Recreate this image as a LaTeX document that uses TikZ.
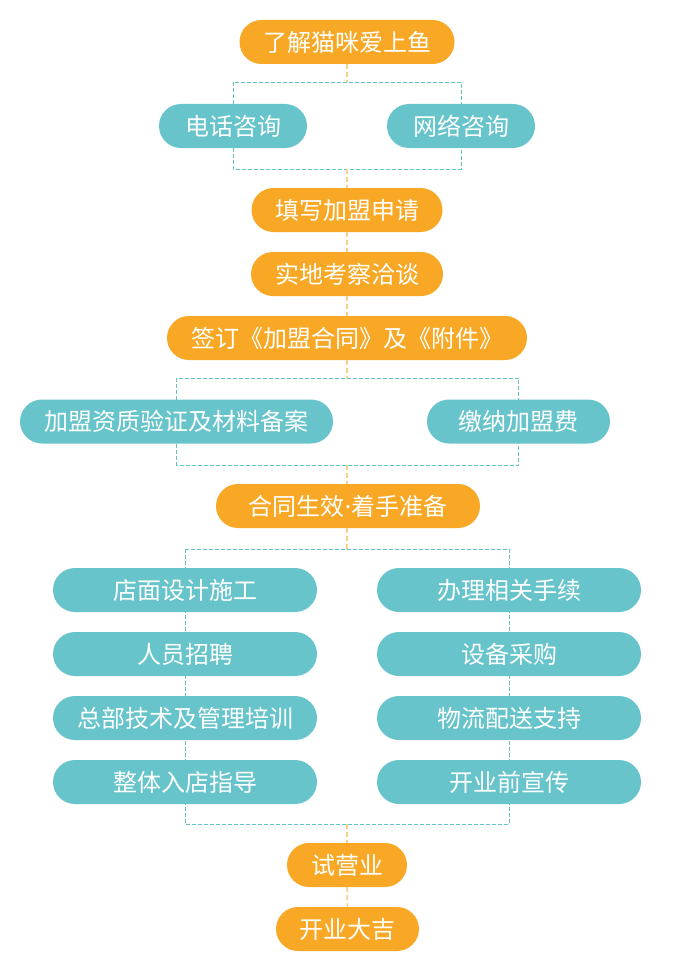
\documentclass[tikz,border=0pt]{standalone}
\usepackage{fontspec}
\setmainfont{Noto Sans CJK SC}
\newfontfamily\latn{Noto Sans}
\usepackage{xcolor}
\usetikzlibrary{positioning, calc, backgrounds}

\definecolor{orng}{HTML}{F8A824}
\definecolor{tl}{HTML}{67C4CB}
\definecolor{lnorng}{HTML}{F9CD8A}
\definecolor{lnteal}{HTML}{5FC6C0}

\begin{document}
\begin{tikzpicture}[x=1pt,y=-1pt,
    pill/.style={rectangle, rounded corners=22pt, minimum height=44pt, inner sep=0pt,
        text=white, font=\fontsize{24}{28}\selectfont},
    opill/.style={pill, fill=orng},
    tpill/.style={pill, fill=tl},
    link/.style={lnorng, line width=1.6pt, dash pattern=on 5pt off 3pt},
    group/.style={lnteal, line width=0.8pt, dash pattern=on 4pt off 2pt}]
        \useasboundingbox (0,0) rectangle (694,971);
        % steps
        \node[opill, minimum width=215pt] (know) at (347,42) {了解猫咪爱上鱼};
        \node[tpill, minimum width=148pt] (phone) at (233,126) {电话咨询};
        \node[tpill, minimum width=148pt] (web) at (461,126) {网络咨询};
        \node[opill, minimum width=191pt] (apply) at (347,210) {填写加盟申请};
        \node[opill, minimum width=192pt] (visit) at (347,274) {实地考察洽谈};
        \node[opill, minimum width=360pt] (sign) at (347,338) {签订《加盟合同》及《附件》};
        \node[tpill, minimum width=313pt] (check) at (176.5,421.5) {加盟资质验证及材料备案};
        \node[tpill, minimum width=183pt] (fee) at (518.5,421.5) {缴纳加盟费};
        \node[opill, minimum width=264pt] (ready) at (348,506) {合同生效{\latn ·}着手准备\hspace{16pt}};
        \node[tpill, minimum width=264pt] (shop) at (185,590) {店面设计施工};
        \node[tpill, minimum width=264pt] (staff) at (185,654) {人员招聘};
        \node[tpill, minimum width=264pt] (train) at (185,718) {总部技术及管理培训};
        \node[tpill, minimum width=264pt] (guide) at (185,782) {整体入店指导};
        \node[tpill, minimum width=264pt] (permit) at (509,590) {办理相关手续};
        \node[tpill, minimum width=264pt] (equip) at (509,654) {设备采购};
        \node[tpill, minimum width=264pt] (supply) at (509,718) {物流配送支持};
        \node[tpill, minimum width=264pt] (promo) at (509,782) {开业前宣传};
        \node[opill, minimum width=120pt] (trial) at (347,865) {试营业};
        \node[opill, minimum width=143pt] (open) at (347.5,929) {开业大吉};
        % group frames
        \coordinate (g1t) at (347,82);
        \coordinate (g1b) at (347,169);
        \coordinate (g2t) at (347,378);
        \coordinate (g2b) at (347,465);
        \coordinate (g3t) at (347,549);
        \coordinate (g3b) at (347,824);
        \begin{scope}[on background layer]
            \fill[white] (0,0) rectangle (694,971);
            \draw[group] (phone.center |- g1t) rectangle (web.center |- g1b);
            \draw[group] (check.center |- g2t) rectangle (fee.center |- g2b);
            \draw[group] (shop.center |- g3t) rectangle (permit.center |- g3b);
        \end{scope}
        % links
        \draw[link] (know) -- (g1t);
        \draw[link] (g1b) -- (apply);
        \draw[link] (apply) -- (visit);
        \draw[link] (visit) -- (sign);
        \draw[link] (sign) -- (g2t);
        \draw[link] (g2b) -- (ready.north -| g2b);
        \draw[link] (ready.south -| g3t) -- (g3t);
        \draw[link] (g3b) -- (trial);
        \draw[link] (trial) -- (open);
    \end{tikzpicture}
\end{document}
